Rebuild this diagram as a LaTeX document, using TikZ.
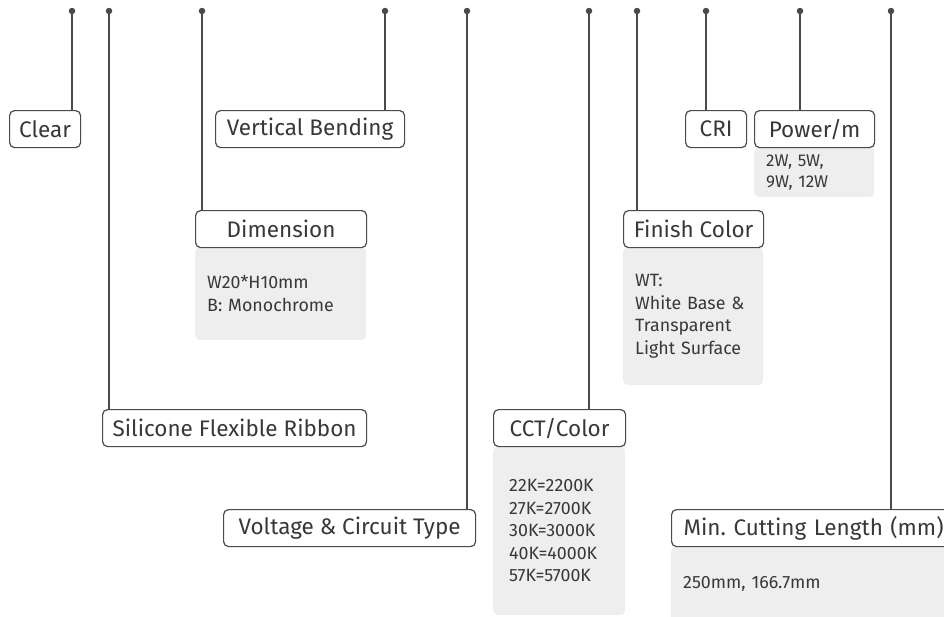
\documentclass[tikz,border=0pt]{standalone}
\usepackage{fontspec}
\setmainfont{Fira Sans}
\frenchspacing
\definecolor{ln}{HTML}{4A4A4A}
\definecolor{tx}{HTML}{383838}
\definecolor{gbox}{HTML}{EEEEEE}
\begin{document}
\begin{tikzpicture}[x=1pt,y=-1pt,
 lab/.style={draw=ln, line width=1.2pt, rounded corners=5pt, anchor=north west, minimum height=37pt, inner sep=0pt, text=tx, font=\fontsize{22.5}{26}\selectfont, fill=white},
 det/.style={fill=gbox, rounded corners=5pt, anchor=north west, inner xsep=12pt, inner ysep=0pt, align=left, text=tx, font=\fontsize{17.8}{22.5}\selectfont},
 dot/.style={circle, fill=ln, inner sep=0pt, minimum size=6.5pt},
 con/.style={draw=ln, line width=1.2pt}]
\useasboundingbox (0,0) rectangle (944,616);
% dots
\node[dot] (d1) at (72,11) {};
\node[dot] (d2) at (109,11) {};
\node[dot] (d3) at (202,11) {};
\node[dot] (d4) at (385,11) {};
\node[dot] (d5) at (467,11) {};
\node[dot] (d6) at (589,11) {};
\node[dot] (d7) at (637,11) {};
\node[dot] (d8) at (706,11) {};
\node[dot] (d9) at (800,11) {};
\node[dot] (d10) at (891,11) {};
% detail boxes
\node[det, minimum height=93pt, text width=147pt] (dimD) at (195,247) {W20*H10mm\\B: Monochrome};
\node[det, minimum height=169pt, text width=100pt, inner xsep=16pt] (cctD) at (493,446) {22K=2200K\\27K=2700K\\30K=3000K\\40K=4000K\\57K=5700K};
\node[det, minimum height=138pt, text width=116pt] (finD) at (623,247) {WT:\\White Base \&\\Transparent\\Light Surface};
\node[det, minimum height=50pt, text width=96pt, font=\fontsize{17}{21}\selectfont] (powD) at (754,147) {2W, 5W,\\9W, 12W};
\node[det, minimum height=76pt, text width=266pt] (cutD) at (671,546) {250mm, 166.7mm};
% labels
\node[lab, minimum width=71pt] (clear) at (9,110) {Clear};
\node[lab, minimum width=264pt] (sil) at (102,409) {Silicone Flexible Ribbon};
\node[lab, minimum width=171pt] (dim) at (195,210) {Dimension};
\node[lab, minimum width=189pt] (vb) at (215,110) {Vertical Bending};
\node[lab, minimum width=252pt] (volt) at (223,509) {Voltage \& Circuit Type};
\node[lab, minimum width=132pt] (cct) at (493,409) {CCT/Color};
\node[lab, minimum width=140pt] (fin) at (623,210) {Finish Color};
\node[lab, minimum width=61pt] (cri) at (685,110) {CRI};
\node[lab, minimum width=120pt] (pow) at (754,110) {Power/m};
\node[lab, text width=266pt, inner xsep=12pt, align=left] (cut) at (671,509) {Min. Cutting Length (mm)};
% connectors
\draw[con] (d1) -- (d1 |- clear.north);
\draw[con] (d2) -- (d2 |- sil.north);
\draw[con] (d3) -- (d3 |- dim.north);
\draw[con] (d4) -- (d4 |- vb.north);
\draw[con] (d5) -- (d5 |- volt.north);
\draw[con] (d6) -- (d6 |- cct.north);
\draw[con] (d7) -- (d7 |- fin.north);
\draw[con] (d8) -- (d8 |- cri.north);
\draw[con] (d9) -- (d9 |- pow.north);
\draw[con] (d10) -- (d10 |- cut.north);
\end{tikzpicture}
\end{document}
